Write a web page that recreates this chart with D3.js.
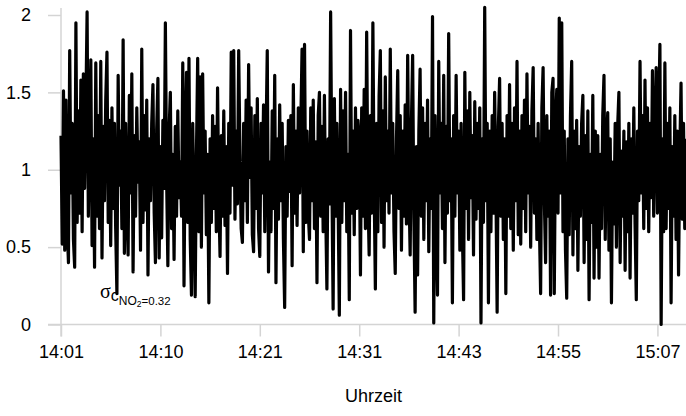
<!DOCTYPE html>
<html>
<head>
<meta charset="utf-8">
<script src="https://cdn.jsdelivr.net/npm/d3@7"></script>
<style>
  body { margin: 0; background: #fff; }
  svg { display: block; }
  .axis path, .axis line { stroke: #d4d4d4; stroke-width: 1.5; }
  .axis text { font-family: "Liberation Sans", Arial, sans-serif; font-size: 18px; fill: #000; }
  .series { fill: none; stroke: #000; stroke-width: 3.2; stroke-linejoin: round; }
</style>
</head>
<body>
<svg id="chart" width="686" height="416"></svg>
<script>
// NO2 concentration (normalised), one value per sample
const no2Values = [
  1.22, 0.52, 1.51, 0.48, 1.45, 0.62, 0.40, 1.77, 0.85, 1.30, 0.55, 0.37, 1.95, 0.66, 1.38, 0.72, 1.58, 0.60, 1.62, 0.88, 1.40, 2.02, 0.70, 1.25,
  1.71, 0.51, 1.20, 0.37, 1.69, 0.70, 1.35, 0.62, 1.70, 0.43, 1.28, 0.80, 1.45, 1.76, 0.66, 1.32, 0.51, 1.40, 0.75, 1.30, 0.62, 0.20, 1.61, 0.90,
  1.25, 0.62, 1.84, 0.46, 1.30, 0.78, 0.45, 1.48, 0.85, 1.62, 0.34, 1.22, 0.70, 1.40, 0.92, 1.18, 0.48, 1.78, 0.66, 1.35, 0.74, 1.45, 0.32, 1.20,
  0.80, 1.30, 1.55, 0.72, 0.40, 1.26, 1.59, 0.43, 1.15, 0.56, 1.32, 0.88, 1.95, 0.95, 0.38, 1.25, 1.50, 0.62, 1.10, 0.42, 1.28, 0.70, 1.38, 0.82,
  1.05, 0.70, 1.69, 0.25, 1.20, 1.63, 0.66, 1.72, 0.55, 0.19, 1.30, 0.80, 0.18, 1.10, 1.72, 0.60, 1.60, 0.50, 1.62, 0.85, 1.25, 0.58, 1.10, 0.14,
  1.20, 0.66, 1.35, 0.75, 1.28, 0.60, 1.53, 0.82, 0.44, 1.22, 0.70, 1.38, 0.64, 1.15, 0.33, 1.30, 0.72, 1.76, 0.90, 1.77, 0.68, 1.25, 0.78, 1.77,
  1.10, 0.62, 0.53, 1.30, 0.80, 1.45, 0.66, 1.68, 0.95, 1.40, 0.58, 0.47, 1.35, 0.75, 1.46, 0.62, 0.44, 1.30, 0.85, 1.42, 0.60, 1.20, 1.77, 0.34,
  1.05, 0.60, 1.38, 0.75, 1.61, 0.27, 1.20, 0.68, 1.42, 0.80, 1.30, 0.55, 0.11, 1.15, 0.70, 1.32, 0.86, 1.35, 0.38, 1.55, 0.72, 1.25, 0.64, 1.40,
  0.85, 1.30, 1.78, 0.47, 1.81, 0.66, 1.25, 0.72, 0.55, 1.40, 0.80, 1.45, 0.62, 1.18, 0.27, 1.35, 1.50, 0.70, 1.28, 0.60, 1.48, 0.75, 0.23, 1.20,
  0.78, 2.02, 0.95, 0.10, 1.46, 0.70, 1.30, 0.82, 0.06, 1.52, 0.66, 1.38, 0.80, 1.50, 0.60, 1.10, 0.16, 1.90, 0.72, 1.25, 0.58, 1.40, 0.75, 1.32,
  1.20, 0.32, 1.40, 0.70, 1.52, 0.62, 1.89, 0.85, 0.45, 1.35, 0.72, 1.95, 0.90, 0.23, 1.30, 0.60, 1.48, 1.77, 0.66, 1.38, 0.50, 1.60, 0.80, 1.25,
  0.72, 1.78, 0.85, 1.30, 0.60, 0.33, 1.20, 1.64, 0.75, 1.35, 0.48, 1.25, 0.70, 1.42, 0.65, 1.74, 0.90, 0.45, 1.30, 1.74, 0.68, 0.08, 1.15, 0.32,
  1.25, 1.65, 0.70, 1.40, 0.55, 1.30, 0.80, 1.45, 0.47, 1.20, 0.75, 1.99, 0.01, 1.35, 0.70, 0.19, 1.70, 0.85, 1.30, 0.62, 1.61, 0.40, 1.28, 0.72,
  1.88, 0.80, 1.20, 0.14, 1.35, 0.70, 1.61, 0.85, 1.25, 0.48, 1.30, 0.62, 0.16, 1.63, 0.75, 1.38, 0.55, 1.50, 0.82, 1.22, 0.45, 1.44, 0.68, 1.30,
  0.75, 1.40, 0.01, 1.20, 0.66, 2.05, 0.80, 1.30, 0.14, 1.25, 0.60, 1.35, 0.72, 1.50, 0.90, 0.08, 1.28, 1.59, 0.70, 1.30, 0.55, 1.20, 0.20, 1.35,
  0.70, 1.55, 0.62, 1.30, 0.48, 1.40, 0.80, 1.70, 0.58, 1.25, 0.52, 1.35, 0.75, 1.45, 0.60, 1.62, 0.85, 1.28, 0.50, 1.38, 1.66, 0.72, 1.20, 0.55,
  1.30, 0.65, 0.20, 1.40, 1.66, 0.80, 0.40, 1.35, 0.70, 1.25, 0.19, 1.50, 1.59, 0.20, 1.30, 1.52, 0.72, 1.98, 0.85, 1.95, 0.60, 1.25, 0.48, 0.17,
  1.20, 0.58, 1.35, 1.70, 0.45, 1.25, 0.62, 1.32, 0.35, 1.15, 0.70, 1.30, 1.48, 0.40, 1.22, 0.55, 1.38, 0.16, 1.10, 0.66, 1.48, 0.30, 1.25, 0.50,
  1.22, 0.30, 1.10, 0.62, 1.35, 1.61, 0.55, 1.15, 1.37, 0.48, 1.20, 0.14, 1.05, 0.65, 1.30, 0.50, 1.28, 1.50, 0.40, 1.12, 0.70, 1.25, 0.35, 1.18,
  0.60, 1.30, 0.30, 1.20, 0.72, 1.40, 0.65, 0.16, 1.25, 0.80, 1.70, 0.85, 1.35, 0.62, 1.58, 0.75, 1.40, 0.60, 1.30, 0.82, 1.64, 0.70, 1.25, 1.66,
  0.72, 1.35, 1.81, 0.00, 1.20, 0.60, 1.69, 0.62, 1.30, 0.75, 1.40, 0.14, 1.15, 0.70, 1.35, 0.55, 1.25, 0.32, 1.10, 1.56, 0.68, 1.30, 0.62, 1.20
];

// sample indices carrying a time label on the x axis
const timeTickIndex = [0, 80, 160, 240, 320, 400, 480];
const timeTickLabels = ["14:01", "14:10", "14:21", "14:31", "14:43", "14:55", "15:07"];

const yTicks = [0, 0.5, 1, 1.5, 2];
const yTickLabels = ["0", "0.5", "1", "1.5", "2"];

const xTitle = "Uhrzeit";
const sigmaValue = "0.32";

const svg = d3.select("#chart");
const plotLeft = 61, plotRight = 686, plotTop = 15, plotBottom = 324.5;

const x = d3.scaleLinear()
    .domain([0, no2Values.length - 1])
    .range([plotLeft, plotRight]);
const y = d3.scaleLinear()
    .domain([0, 2])
    .range([plotBottom, plotTop]);

// x axis
const xAxis = svg.append("g")
    .attr("class", "axis x-axis")
    .attr("transform", `translate(0,${plotBottom})`)
    .call(d3.axisBottom(x)
        .tickValues(timeTickIndex)
        .tickFormat((d, i) => timeTickLabels[i])
        .tickSize(12)
        .tickSizeOuter(0)
        .tickPadding(9));
xAxis.select(".domain").attr("d", `M${plotLeft - 13},0H${plotRight}`);

// y axis
const yAxis = svg.append("g")
    .attr("class", "axis y-axis")
    .attr("transform", `translate(${plotLeft},0)`)
    .call(d3.axisLeft(y)
        .tickValues(yTicks)
        .tickFormat((d, i) => yTickLabels[i])
        .tickSize(13)
        .tickSizeOuter(0)
        .tickPadding(17));
yAxis.select(".domain").attr("d", `M0,${plotTop - 7}V${plotBottom + 12}`);

// series
const line = d3.line()
    .x((d, i) => x(i))
    .y(d => y(d));
svg.append("path")
    .datum(no2Values)
    .attr("class", "series")
    .attr("d", line);

// axis title
svg.append("text")
    .attr("x", (plotLeft + plotRight) / 2)
    .attr("y", 402)
    .attr("text-anchor", "middle")
    .style("font-family", "Liberation Sans, Arial, sans-serif")
    .style("font-size", "18px")
    .text(xTitle);

// sigma annotation
const note = svg.append("text")
    .attr("x", 100)
    .attr("y", 298)
    .style("font-family", "Liberation Sans, Arial, sans-serif");
note.append("tspan")
    .style("font-family", "Liberation Serif, Times New Roman, serif")
    .style("font-size", "20px")
    .text("σ");
note.append("tspan")
    .attr("dy", 3)
    .style("font-size", "16px")
    .text("c");
note.append("tspan")
    .attr("dy", 4)
    .style("font-size", "12px")
    .text("NO");
note.append("tspan")
    .attr("dy", 2)
    .style("font-size", "8.5px")
    .text("2");
note.append("tspan")
    .attr("dy", -2)
    .style("font-size", "11.5px")
    .text("=" + sigmaValue);
</script>
</body>
</html>
